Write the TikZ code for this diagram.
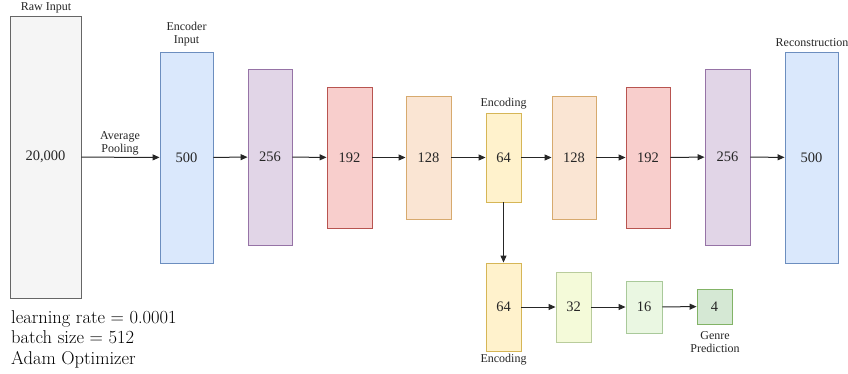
\documentclass[tikz,border=0pt]{standalone}
\usepackage{fontspec}
\newfontfamily\tnr{Liberation Serif}
\usetikzlibrary{arrows.meta}
\definecolor{grayF}{HTML}{F5F5F5}\definecolor{grayS}{HTML}{666666}
\definecolor{blueF}{HTML}{DAE8FC}\definecolor{blueS}{HTML}{6C8EBF}
\definecolor{purpF}{HTML}{E1D5E7}\definecolor{purpS}{HTML}{9673A6}
\definecolor{redF}{HTML}{F8CECC}\definecolor{redS}{HTML}{B85450}
\definecolor{oraF}{HTML}{FAE5D3}\definecolor{oraS}{HTML}{D7AA6E}
\definecolor{yelF}{HTML}{FFF2CC}\definecolor{yelS}{HTML}{D6B656}
\definecolor{gr1F}{HTML}{F4FAD9}\definecolor{gr1S}{HTML}{B9CC9C}
\definecolor{gr2F}{HTML}{EAF7E2}\definecolor{gr2S}{HTML}{A9C99A}
\definecolor{gr3F}{HTML}{D5E8D4}\definecolor{gr3S}{HTML}{82B366}
\tikzset{
  layer/.style={draw, line width=0.9pt, inner sep=0pt, text=black!85, font=\tnr\fontsize{14.5}{16}\selectfont},
  lbl/.style={font=\tnr\fontsize{12}{13}\selectfont, align=center, inner sep=0pt, text=black!85},
  conn/.style={line width=1pt, draw=black!85, -{Triangle[length=7pt,width=6pt]}},
}
\begin{document}
\begin{tikzpicture}[x=1pt,y=-1pt]
\useasboundingbox (0,0) rectangle (848,373);
% encoder row
\node[layer, fill=grayF, draw=grayS, minimum width=71pt, minimum height=282pt] (raw) at (45.5,157) {20,000};
\node[layer, fill=blueF, draw=blueS, minimum width=53pt, minimum height=211pt] (enc) at (186.5,157.5) {500};
\node[layer, fill=purpF, draw=purpS, minimum width=44pt, minimum height=176pt] (p1) at (270,157) {256};
\node[layer, fill=redF, draw=redS, minimum width=45pt, minimum height=141pt] (r1) at (349.5,157.5) {192};
\node[layer, fill=oraF, draw=oraS, minimum width=45pt, minimum height=123pt] (o1) at (428.5,157.5) {128};
\node[layer, fill=yelF, draw=yelS, minimum width=35pt, minimum height=89pt] (y1) at (503.5,157.5) {64};
% decoder
\node[layer, fill=oraF, draw=oraS, minimum width=44pt, minimum height=123pt] (o2) at (574,157.5) {128};
\node[layer, fill=redF, draw=redS, minimum width=44pt, minimum height=141pt] (r2) at (648,157.5) {192};
\node[layer, fill=purpF, draw=purpS, minimum width=45pt, minimum height=176pt] (p2) at (727.5,157) {256};
\node[layer, fill=blueF, draw=blueS, minimum width=53pt, minimum height=211pt] (rec) at (811.5,157.5) {500};
% genre branch
\node[layer, fill=yelF, draw=yelS, minimum width=35pt, minimum height=88pt] (y2) at (503.5,307) {64};
\node[layer, fill=gr1F, draw=gr1S, minimum width=35pt, minimum height=70pt] (g1) at (573.5,307) {32};
\node[layer, fill=gr2F, draw=gr2S, minimum width=36pt, minimum height=52pt] (g2) at (644,307) {16};
\node[layer, fill=gr3F, draw=gr3S, minimum width=35pt, minimum height=35pt] (g3) at (714.5,306.5) {4};
% labels
\node[lbl] (lraw) at (46,8) {Raw Input};
\node[lbl] (lenc) at (186.5,34) {Encoder\\Input};
\node[lbl] (lcode) at (503.5,104) {Encoding};
\node[lbl] (lrec) at (812,43) {Reconstruction};
\node[lbl] (lpool) at (120,143.5) {Average\\Pooling};
\node[lbl] (lcode2) at (503.5,360) {Encoding};
\node[lbl] (lgenre) at (715,342.5) {Genre\\Prediction};
\node[anchor=north west, align=left, inner sep=0pt, font=\fontsize{18.5}{20.5}\selectfont] (hyper) at (11,310) {learning rate = 0.0001\\batch size = 512\\Adam Optimizer};
% connectors
\draw[conn] (raw) -- (enc);
\draw[conn] (enc) -- (p1);
\draw[conn] (p1) -- (r1);
\draw[conn] (r1) -- (o1);
\draw[conn] (o1) -- (y1);
\draw[conn] (y1) -- (o2);
\draw[conn] (o2) -- (r2);
\draw[conn] (r2) -- (p2);
\draw[conn] (p2) -- (rec);
\draw[conn] (y1) -- (y2);
\draw[conn] (y2) -- (g1);
\draw[conn] (g1) -- (g2);
\draw[conn] (g2) -- (g3);
\end{tikzpicture}
\end{document}
